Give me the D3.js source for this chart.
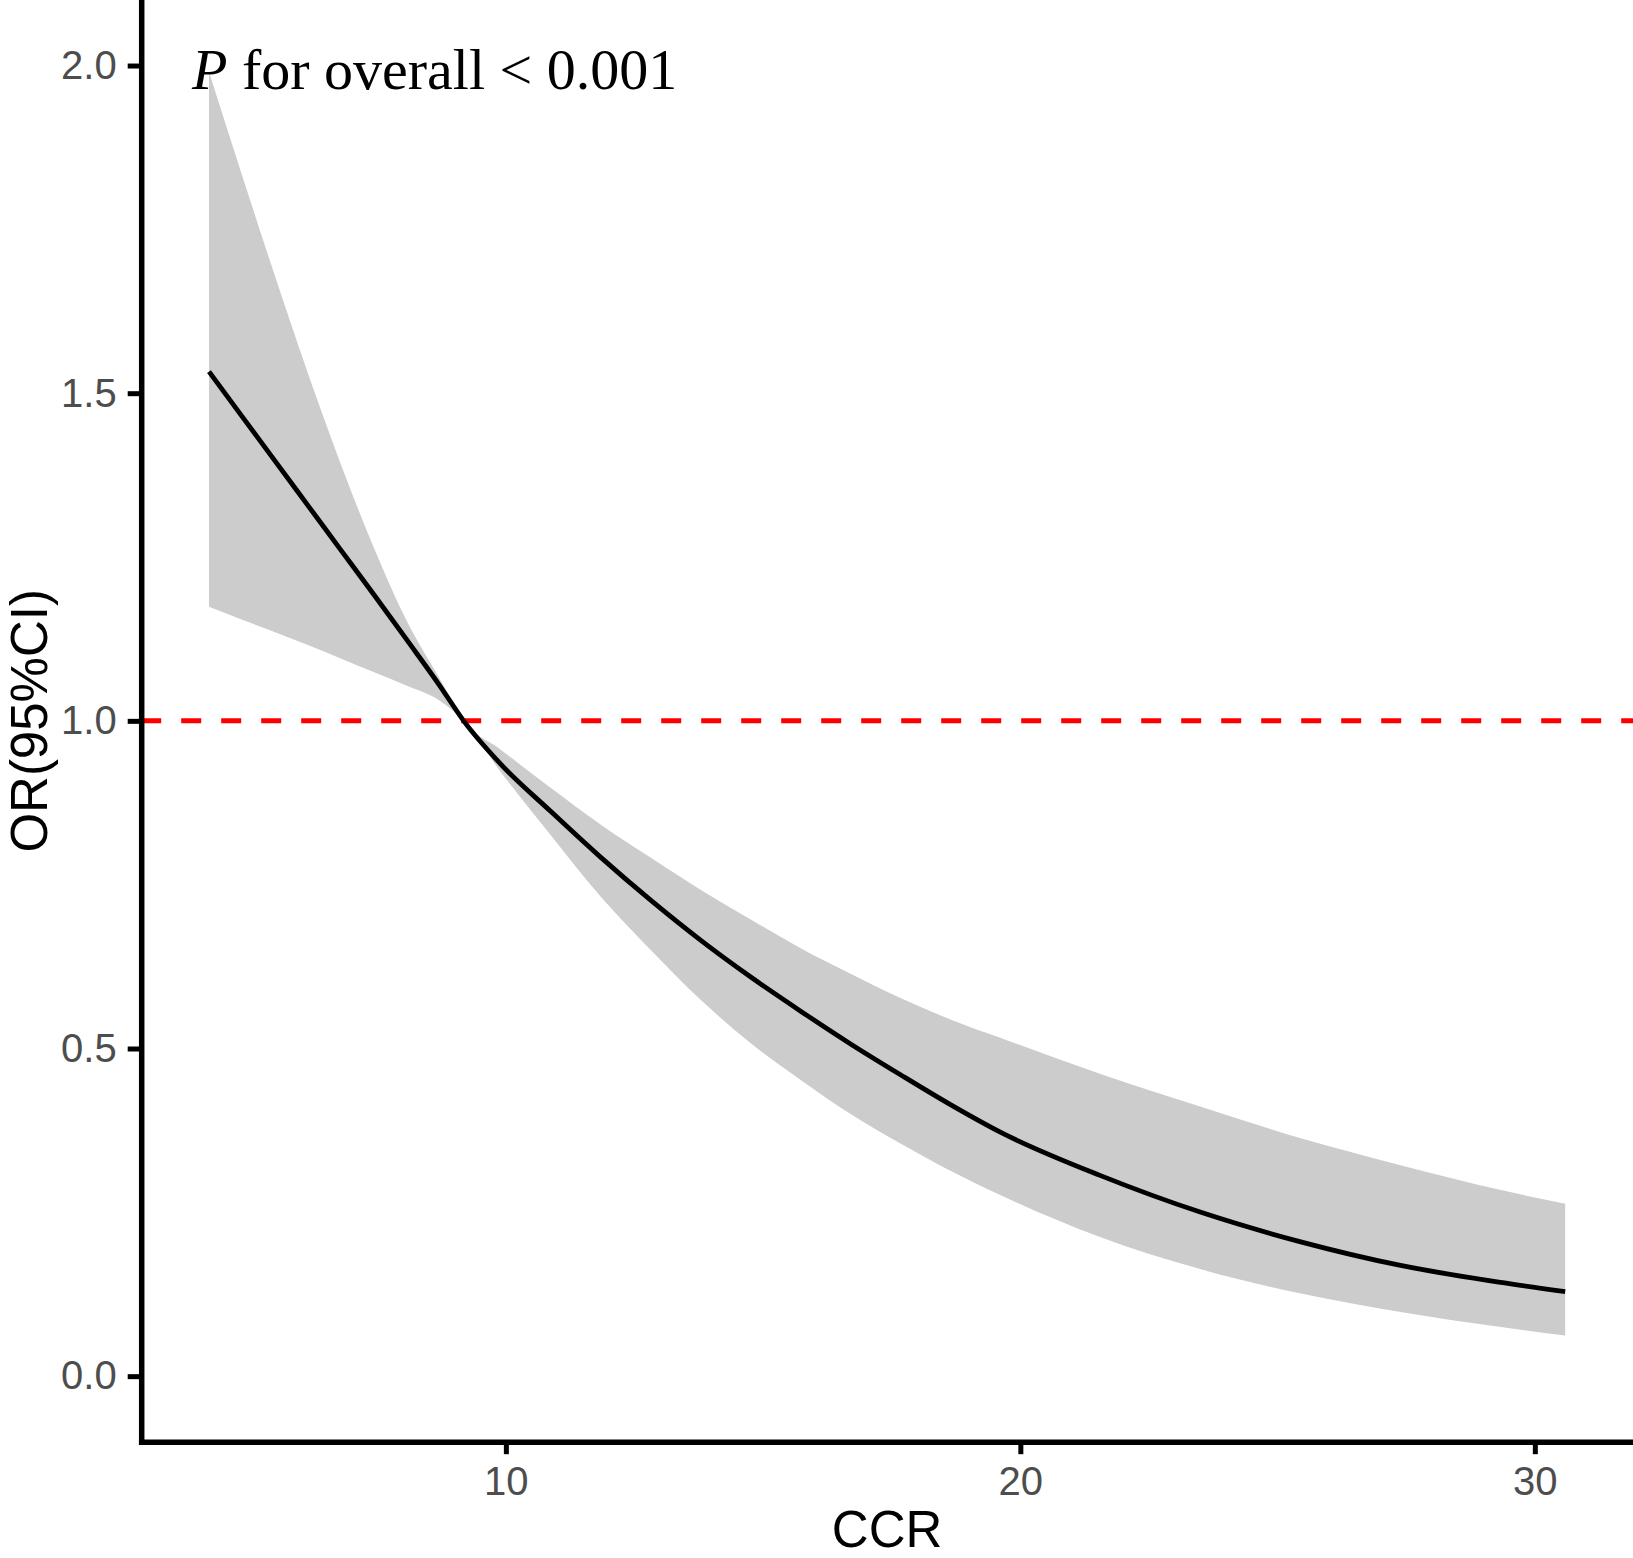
<!DOCTYPE html>
<html>
<head>
<meta charset="utf-8">
<script src="https://cdn.jsdelivr.net/npm/d3@7"></script>
<style>
  body { margin: 0; background: #fff; }
  svg { display: block; }
</style>
</head>
<body>
<div id="chart"></div>
<script>
// CCR values where the spline was read
const ccr = [4.23, 4.85, 5.49, 6.14, 6.79, 7.44, 8.09, 8.73, 9.18, 9.90, 10.87, 11.84, 12.82,
  13.79, 14.76, 15.73, 16.70, 17.67, 18.65, 19.62, 21.56, 23.51, 25.45, 27.39, 29.34, 30.59];
// odds ratio and 95% CI
const orValue = [1.533, 1.467, 1.399, 1.330, 1.261, 1.192, 1.122, 1.052, 1.000, 0.934, 0.862, 0.792, 0.726,
  0.665, 0.609, 0.557, 0.507, 0.460, 0.414, 0.372, 0.306, 0.250, 0.205, 0.169, 0.143, 0.129];
const ciLower = [1.174, 1.155, 1.136, 1.116, 1.095, 1.074, 1.053, 1.030, 1.000, 0.922, 0.826, 0.732, 0.650,
  0.574, 0.508, 0.452, 0.400, 0.355, 0.313, 0.276, 0.212, 0.163, 0.126, 0.098, 0.075, 0.062];
const ciUpper = [1.990, 1.838, 1.684, 1.533, 1.392, 1.263, 1.150, 1.062, 1.000, 0.956, 0.898, 0.842, 0.791,
  0.742, 0.697, 0.653, 0.614, 0.577, 0.544, 0.516, 0.461, 0.411, 0.363, 0.322, 0.284, 0.263];

const xTicks = [10, 20, 30];
const yTicks = [0, 0.5, 1, 1.5, 2];
const yLimits = [0, 2];
const refLine = 1;

const rows = ccr.map((c, i) => ({ x: c, or: orValue[i], lo: ciLower[i], hi: ciUpper[i] }));

const W = 1633, H = 1558;
const panel = { left: 141.2, right: W, top: 0, bottom: 1441.7 };

const svg = d3.select("#chart").append("svg")
  .attr("width", W)
  .attr("height", H);

// ggplot style 5% expansion
const xExt = d3.extent(ccr);
const xPad = (xExt[1] - xExt[0]) * 0.05;
const x = d3.scaleLinear()
  .domain([xExt[0] - xPad, xExt[1] + xPad])
  .range([panel.left, panel.right]);

const yPad = (yLimits[1] - yLimits[0]) * 0.05;
const y = d3.scaleLinear()
  .domain([yLimits[0] - yPad, yLimits[1] + yPad])
  .range([panel.bottom, panel.top]);

// CI ribbon
svg.append("path")
  .datum(rows)
  .attr("fill", "#cccccc")
  .attr("d", d3.area()
    .x(d => x(d.x))
    .y0(d => y(d.lo))
    .y1(d => y(d.hi))
    .curve(d3.curveMonotoneX));

// reference line
svg.append("line")
  .attr("x1", panel.left)
  .attr("x2", panel.right)
  .attr("y1", y(refLine))
  .attr("y2", y(refLine))
  .attr("stroke", "#ff0000")
  .attr("stroke-width", 5)
  .attr("stroke-dasharray", "20,20");

// OR curve
svg.append("path")
  .datum(rows)
  .attr("fill", "none")
  .attr("stroke", "#000")
  .attr("stroke-width", 4.8)
  .attr("d", d3.line()
    .x(d => x(d.x))
    .y(d => y(d.or))
    .curve(d3.curveMonotoneX));

// axes
const xAxis = svg.append("g")
  .attr("transform", `translate(0,${panel.bottom})`)
  .call(d3.axisBottom(x).tickValues(xTicks).tickSizeInner(12.5).tickSizeOuter(0).tickPadding(12));

const yAxis = svg.append("g")
  .attr("transform", `translate(${panel.left},0)`)
  .call(d3.axisLeft(y).tickValues(yTicks).tickFormat(d3.format(".1f"))
    .tickSizeInner(13.5).tickSizeOuter(0).tickPadding(11));

[xAxis, yAxis].forEach(g => {
  g.select(".domain").attr("stroke", "#000").attr("stroke-width", 5.5).attr("stroke-linecap", "square");
  g.selectAll(".tick line").attr("stroke", "#000").attr("stroke-width", 5);
  g.selectAll(".tick text")
    .attr("fill", "#4d4d4d")
    .style("font-family", "'Liberation Sans', Arial, sans-serif")
    .style("font-size", "40px");
});

// axis titles
svg.append("text")
  .attr("x", (panel.left + panel.right) / 2)
  .attr("y", 1547)
  .attr("text-anchor", "middle")
  .style("font-family", "'Liberation Sans', Arial, sans-serif")
  .style("font-size", "51px")
  .text("CCR");

svg.append("text")
  .attr("transform", `translate(47,${y(1)}) rotate(-90)`)
  .attr("text-anchor", "middle")
  .style("font-family", "'Liberation Sans', Arial, sans-serif")
  .style("font-size", "51px")
  .text("OR(95%CI)");

// p value note
const note = svg.append("text")
  .attr("x", 192)
  .attr("y", 89)
  .style("font-family", "'Liberation Serif', 'Times New Roman', serif")
  .style("font-size", "58px");
note.append("tspan").style("font-style", "italic").text("P");
note.append("tspan").text(" for overall < 0.001");
</script>
</body>
</html>
